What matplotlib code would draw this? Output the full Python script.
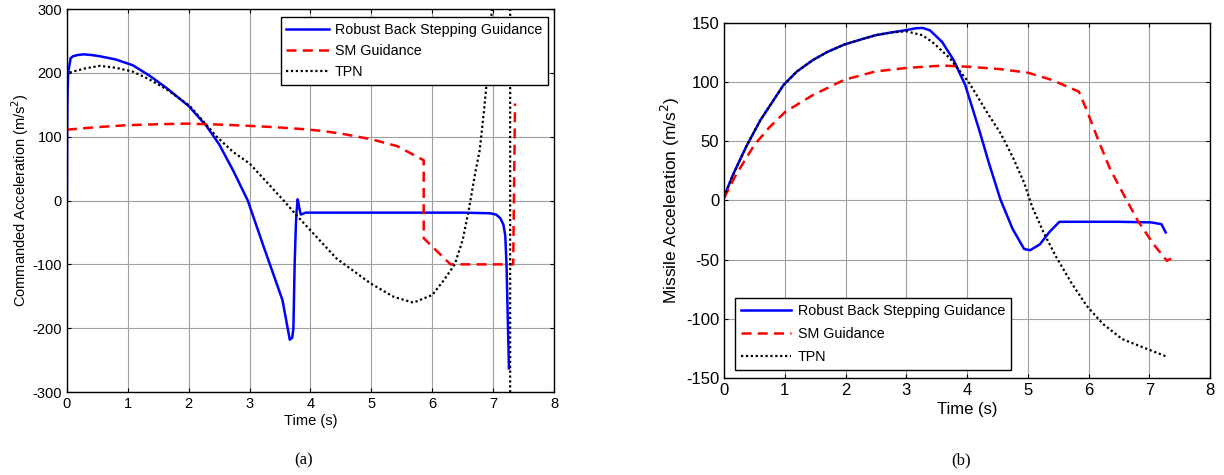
import matplotlib.pyplot as plt

plt.rcParams['font.family'] = ['Liberation Sans', 'DejaVu Sans']
plt.rcParams['axes.unicode_minus'] = False

# ---- (a) commanded acceleration ----
a_rbs_t = [0, 0.005, 0.01, 0.02, 0.06, 0.10, 0.18, 0.27, 0.40, 0.54, 0.8, 1.08, 1.35, 1.64,
           2.0, 2.29, 2.5, 2.73, 2.97, 3.23, 3.54, 3.66, 3.70, 3.72, 3.73, 3.74, 3.76, 3.77,
           3.79, 3.81, 3.84, 3.87, 3.92, 4.5, 5.5, 6.5, 6.95, 7.05, 7.12, 7.17, 7.20, 7.22,
           7.24, 7.26]
a_rbs_v = [0, 137, 170, 200, 223, 226, 228, 229, 228, 226, 221, 212, 196, 176,
           148, 117, 88, 47, 0, -72, -156, -218, -215, -200, -150, -100, -40, -20,
           2, -8, -22, -21, -19, -19, -19, -19, -20, -22, -28, -38, -55, -100,
           -180, -263]

a_sm_t = [0, 0.5, 0.99, 1.5, 1.97, 2.5, 2.98, 3.4, 3.86, 4.2, 4.55, 5.0, 5.43, 5.86, 5.86,
          6.30, 7.33, 7.36]
a_sm_v = [111, 115, 118, 119.5, 120.5, 119, 117, 115, 112, 109, 104, 96, 85, 63, -59,
          -100, -100, 152]

a_tpn_t = [0, 0.02, 0.3, 0.54, 0.8, 1.08, 1.35, 1.64, 2.02, 2.46, 2.73, 3.0, 3.28, 3.55,
           3.77, 4.1, 4.43, 4.99, 5.37, 5.69, 6.0, 6.19, 6.37, 6.5, 6.6, 6.7, 6.78, 6.85,
           6.9, 6.95, 6.98, 7.1, 7.2, 7.28, 7.28, 7.3]
a_tpn_v = [195, 200, 207, 211, 208, 202, 190, 174, 148, 100, 76, 58, 29, 1,
           -23, -57, -91, -130, -151, -160, -148, -125, -100, -62, -15, 40, 79, 140,
           190, 260, 300, 500, 800, 1000, -1000, -1000]

# ---- (b) missile acceleration ----
b_rbs_t = [0, 0.15, 0.37, 0.6, 0.98, 1.2, 1.46, 1.7, 1.98, 2.25, 2.49, 2.75, 2.98, 3.15, 3.27,
           3.39, 3.59, 3.78, 3.97, 4.2, 4.36, 4.55, 4.75, 4.94, 5.04, 5.2, 5.35, 5.52, 6.0,
           6.5, 7.03, 7.2, 7.27]
b_rbs_v = [3, 22, 46, 68, 97.6, 109, 118.6, 125.5, 131.8, 136, 139.6, 142, 143.8, 145.5, 145.8,
           143.8, 134, 118.6, 97.6, 59.7, 31.7, 0.8, -24, -41, -42, -37, -27, -18, -18,
           -18, -18.5, -20, -27]

b_sm_t = [0, 0.2, 0.5, 0.75, 1.01, 1.46, 1.98, 2.49, 3.0, 3.59, 4.04, 4.55, 5.0, 5.39, 5.84,
          5.97, 6.16, 6.36, 6.62, 6.81, 7.07, 7.29, 7.36]
b_sm_v = [2, 22, 47, 62, 75, 89, 102, 109, 112, 114, 113, 111, 108, 102, 92,
          76.5, 51, 26, 1, -17, -37, -51, -49]

b_tpn_t = [0, 0.15, 0.37, 0.6, 0.98, 1.2, 1.46, 1.7, 1.98, 2.25, 2.49, 2.75, 3.0, 3.27, 3.46,
           3.72, 4.04, 4.36, 4.55, 4.75, 4.94, 5.07, 5.26, 5.46, 5.71, 5.97, 6.23, 6.55,
           6.94, 7.29]
b_tpn_v = [3, 22, 46, 68, 97.6, 109, 118.6, 125.5, 131.8, 136, 139.6, 142, 143, 139.6, 132.6,
           120, 99, 72, 57, 37, 15, -5, -27, -47, -69, -89, -104, -117,
           -125, -132]

labels = ['Robust Back Stepping Guidance', 'SM Guidance', 'TPN']

fig = plt.figure(figsize=(12.24, 4.75), dpi=100)
ax1 = fig.add_axes([0.0547, 0.1747, 0.3979, 0.8063])
ax2 = fig.add_axes([0.5915, 0.2042, 0.3971, 0.7474])


def style(ax, fs):
    ax.grid(True, color='#a0a0a0', lw=0.8)
    ax.set_axisbelow(True)
    ax.tick_params(direction='in', length=3, top=True, right=True, labelsize=fs)
    for s in ax.spines.values():
        s.set_linewidth(1.0)


ax1.plot(a_rbs_t, a_rbs_v, color='blue', lw=1.8, label=labels[0])
ax1.plot(a_sm_t, a_sm_v, color='red', lw=1.8, ls=(0, (4, 2.5)), label=labels[1])
ax1.plot(a_tpn_t, a_tpn_v, color='black', lw=1.6, ls=(0, (1, 1.2)), label=labels[2])
ax1.set_xlim(0, 8)
ax1.set_ylim(-300, 300)
ax1.set_xticks(range(0, 9))
ax1.set_yticks(range(-300, 301, 100))
ax1.set_xlabel('Time (s)', fontsize=10.5, labelpad=2)
ax1.set_ylabel('Commanded Acceleration (m/s$^2$)', fontsize=10.5, labelpad=1)
style(ax1, 10.5)
leg1 = ax1.legend(loc='upper right', bbox_to_anchor=(0.988, 0.979), borderaxespad=0,
                  fancybox=False, edgecolor='black', framealpha=1, fontsize=10.3,
                  handlelength=3.0, handletextpad=0.4, labelspacing=0.5)
leg1.get_frame().set_linewidth(1.0)

ax2.plot(b_rbs_t, b_rbs_v, color='blue', lw=1.8, label=labels[0])
ax2.plot(b_sm_t, b_sm_v, color='red', lw=1.8, ls=(0, (4, 2.5)), label=labels[1])
ax2.plot(b_tpn_t, b_tpn_v, color='black', lw=1.6, ls=(0, (1, 1.2)), label=labels[2])
ax2.set_xlim(0, 8)
ax2.set_ylim(-150, 150)
ax2.set_xticks(range(0, 9))
ax2.set_yticks(range(-150, 151, 50))
ax2.set_xlabel('Time (s)', fontsize=12, labelpad=3)
ax2.set_ylabel('Missile Acceleration (m/s$^2$)', fontsize=12.5, labelpad=3)
style(ax2, 12)
leg2 = ax2.legend(loc='lower left', bbox_to_anchor=(0.023, 0.0225), borderaxespad=0,
                  fancybox=False, edgecolor='black', framealpha=1, fontsize=10.3,
                  handlelength=3.5, handletextpad=0.5, labelspacing=0.65)
leg2.get_frame().set_linewidth(1.0)

fig.text(0.248, 0.03, '(a)', ha='center', va='center', fontsize=12,
         family=['Liberation Serif', 'DejaVu Serif'])
fig.text(0.785, 0.03, '(b)', ha='center', va='center', fontsize=12,
         family=['Liberation Serif', 'DejaVu Serif'])

fig.savefig('out.png', dpi=100)
